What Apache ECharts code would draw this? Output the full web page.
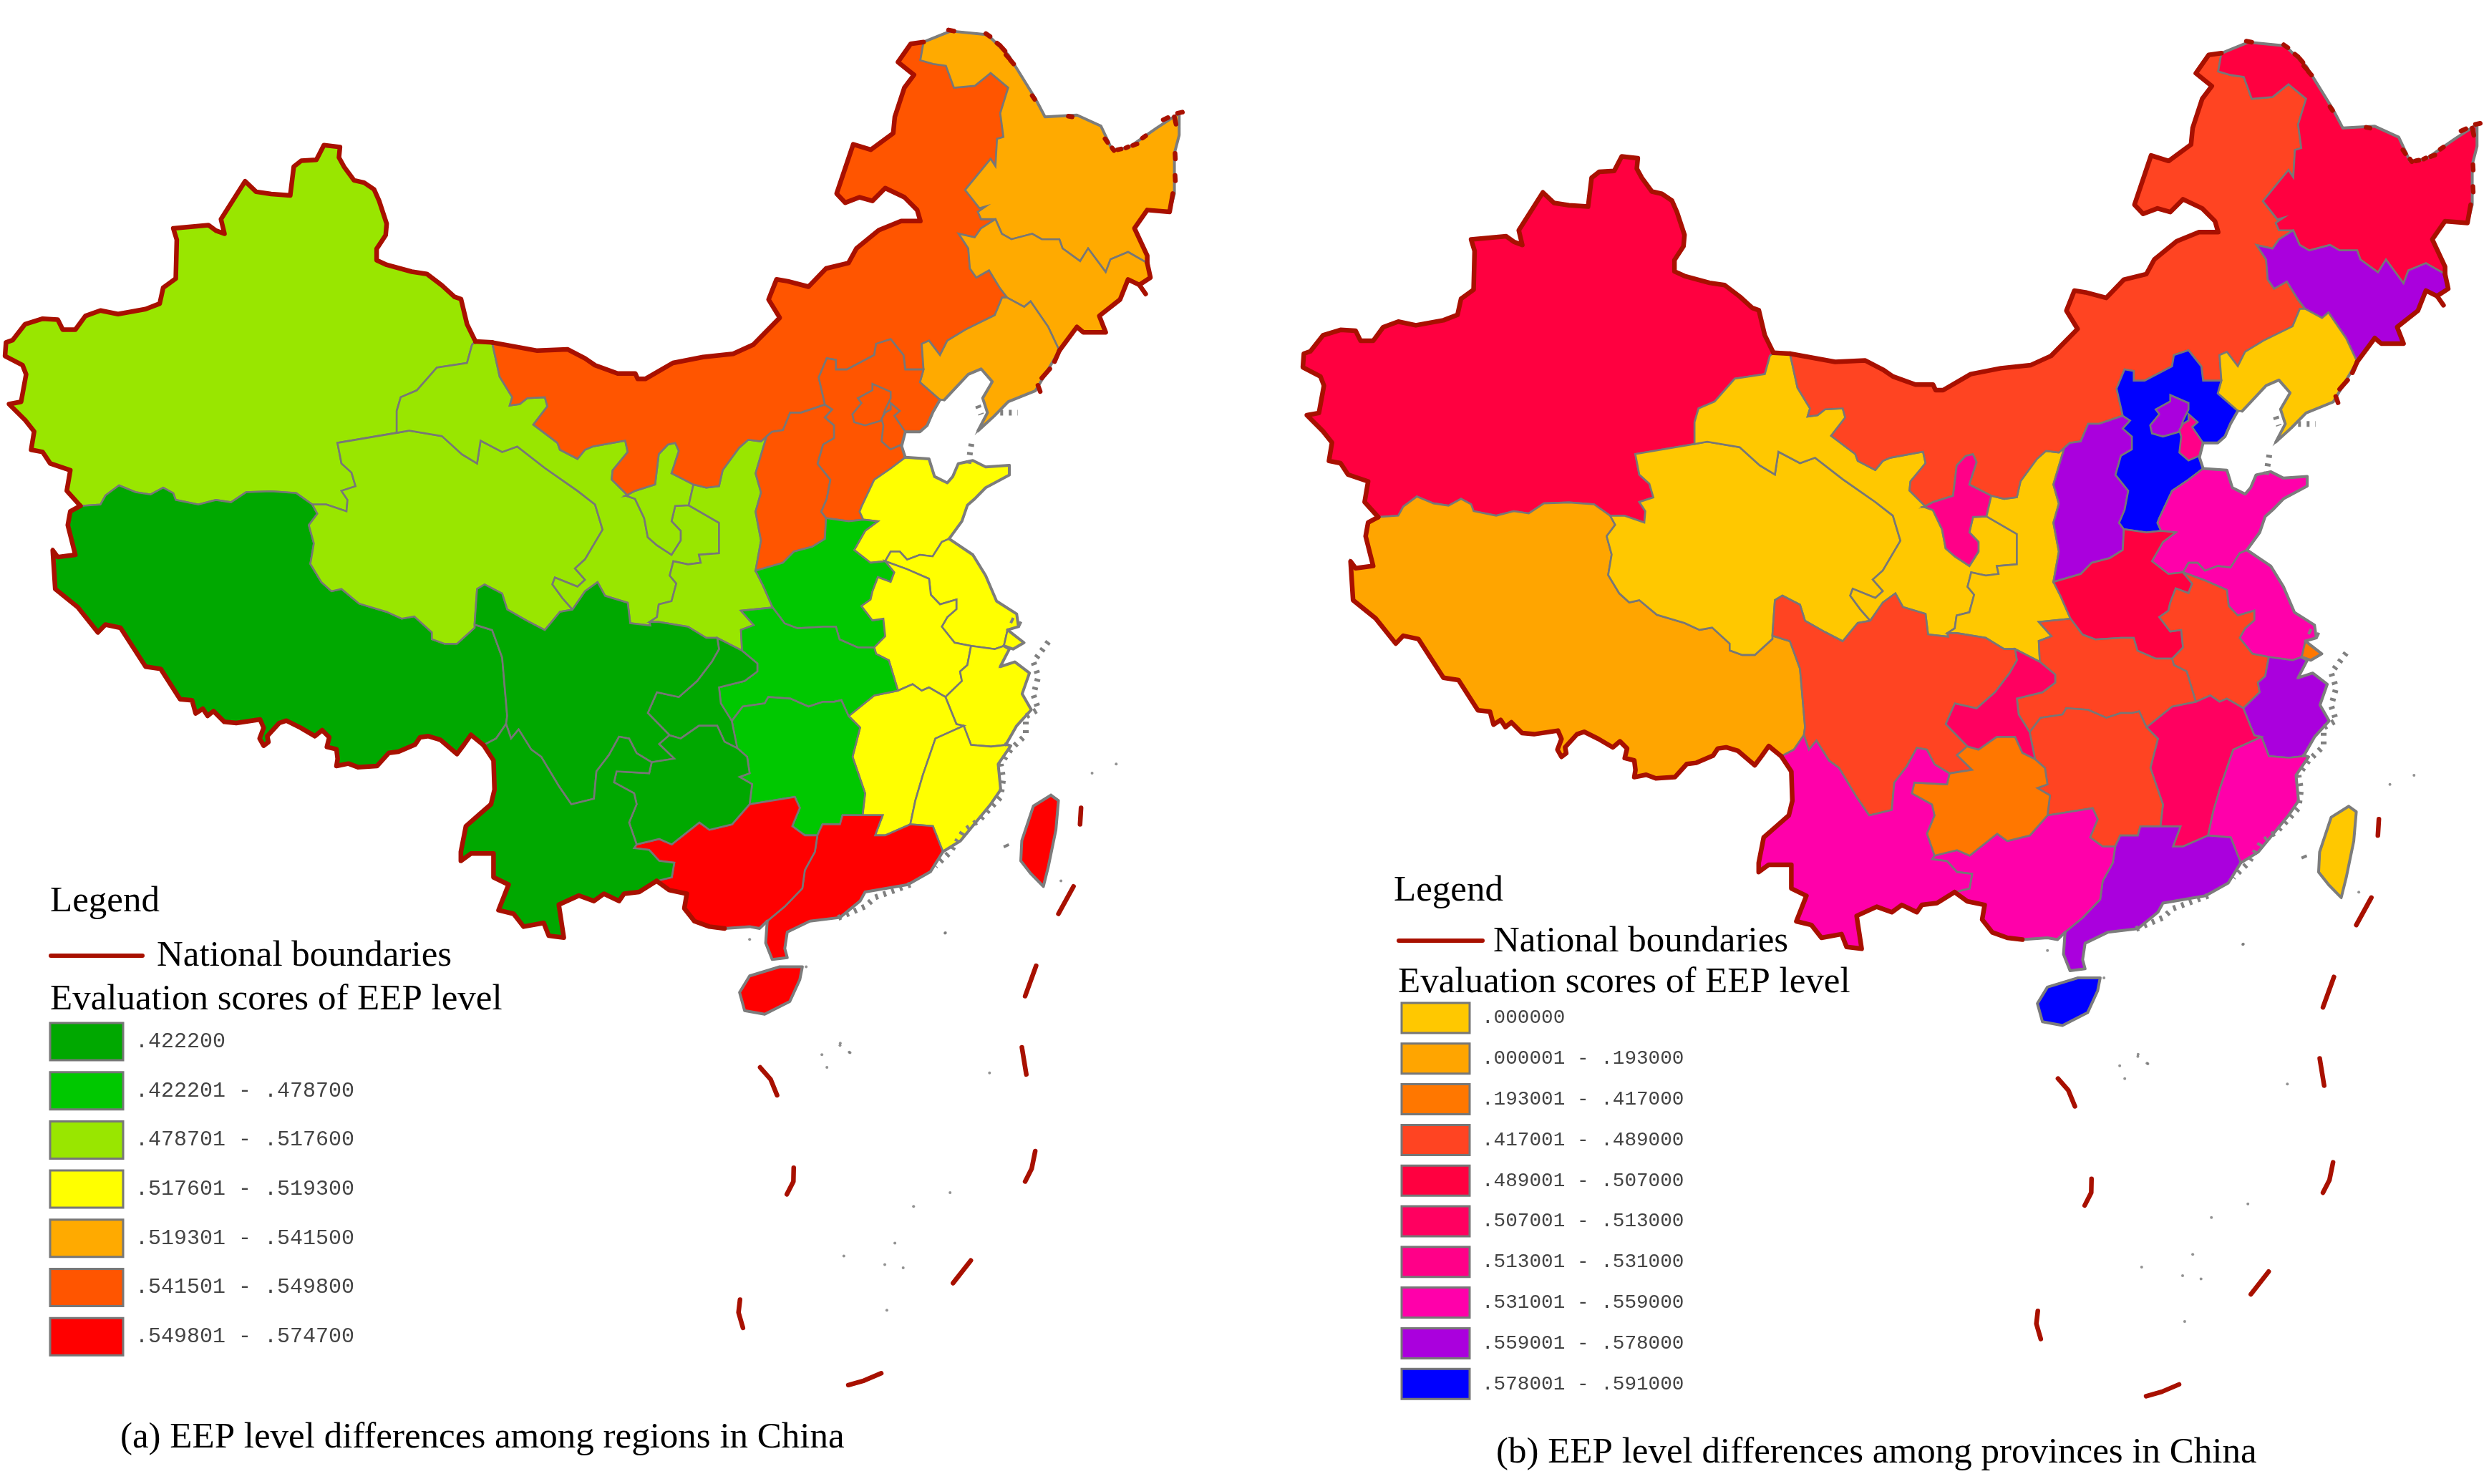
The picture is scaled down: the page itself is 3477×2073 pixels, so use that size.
<!DOCTYPE html>
<html><head><meta charset="utf-8">
<style>html,body{margin:0;padding:0;background:#fff}#c{width:3477px;height:2073px}</style>
<script src="https://cdn.jsdelivr.net/npm/echarts@6/dist/echarts.min.js"></script>
</head><body><div id="c"></div>
<script>
// ---- chart values ----
const provinceNames = ['XJ','XZ','QH','GS','NX','SN','NM','HLJ','JL','LN','SX','HE','BJ','TJ','SD','HA','JS','SH','AH','ZJ','JX','FJ','HB','HN','GD','GX','HI','CQ','SC','GZ','YN','TW'];
const regionScores = [.5176,.4222,.5176,.5176,.5176,.5176,.5498,.5415,.5415,.5415,.5498,.5498,.5498,.5498,.5193,.4787,.5193,.5193,.5193,.5193,.5193,.5193,.4787,.4787,.5747,.5747,.5747,.4222,.4222,.4222,.4222,.5747];
const provinceScores = [.5,.193,0,0,.53,0,.489,.5,.578,0,.578,.591,.578,.53,.559,.5,.559,.417,.489,.578,.513,.559,.489,.489,.578,.559,.591,.513,.489,.417,.559,0];
const regionLabels = ['.422200','.422201 - .478700','.478701 - .517600','.517601 - .519300','.519301 - .541500','.541501 - .549800','.549801 - .574700'];
const regionMin = [.4222,.422201,.478701,.517601,.519301,.541501,.549801];
const regionMax = [.4222,.4787,.5176,.5193,.5415,.5498,.5747];
const regionColors = ['#00A800','#00C800','#99E600','#FFFF00','#FFAA00','#FF5500','#FF0000'];
const provinceLabels = ['.000000','.000001 - .193000','.193001 - .417000','.417001 - .489000','.489001 - .507000','.507001 - .513000','.513001 - .531000','.531001 - .559000','.559001 - .578000','.578001 - .591000'];
const provinceMin = [0,.000001,.193001,.417001,.489001,.507001,.513001,.531001,.559001,.578001];
const provinceMax = [0,.193,.417,.489,.507,.513,.531,.559,.578,.591];
const provinceColors = ['#FFC800','#FFA500','#FF7700','#FF4422','#FF0040','#FF0060','#FF0088','#FF00AA','#AA00DD','#0000FF'];

// ---- map outline ----
const fr = (ox,sx,oy,sy) => pts => pts.map(p => [ox+p[0]*sx, oy+p[1]*sy]);
const A = fr(0,.7015,0,.6378), B = fr(1000,.4464,0,.5102), C = fr(500,.7015,700,.5102);
const D = fr(782.5,.5102,384.4,.4464), E = fr(950,.4145,1300,.4464), F = fr(250,1/3,900,1/3);
const arcs = {
 xjN:A([[947,748],[930,710],[918,655],[905,650],[880,625],[850,600],[820,595],[770,580],[750,570],[750,545],[768,515],[770,490],[755,440],[745,415],[725,400],[705,395],[685,365],[675,345],[677,322],[645,318],[630,350],[600,352],[585,365],[578,428],[540,425],[510,420],[488,397],[440,480],[447,512],[430,505],[415,493],[345,500],[352,525],[350,610],[325,630],[318,665],[290,677],[235,688],[200,680],[170,692],[150,722],[125,722],[115,700],[85,698],[50,710],[25,745],[12,750],[10,780],[45,800],[52,820],[42,880],[18,885],[50,920],[68,945],[62,985],[85,990],[100,1015],[140,1030],[133,1075],[160,1108]]),
 gsBorder:A([[947,748],[980,750]]),
 xjXz:A([[160,1108],[200,1105],[210,1085],[237,1063],[270,1078],[300,1083],[325,1068],[345,1080],[350,1095],[395,1105],[430,1095],[460,1100],[490,1078],[540,1076],[590,1080],[622,1105]]),
 xjQh:A([[622,1105],[650,1105],[690,1120],[692,1095],[680,1075],[708,1065],[700,1035],[680,1015],[672,970],[790,948]]),
 xjGs:A([[790,948],[790,900],[798,870],[830,855],[870,805],[930,795],[940,755],[947,748]]),
 qhGs:A([[790,948],[815,943],[880,955],[920,995],[950,1015],[957,965],[1000,990],[1030,978],[1085,1025],[1150,1075],[1185,1105],[1200,1160],[1165,1225],[1145,1245],[1165,1270],[1150,1285],[1105,1265],[1100,1280],[1120,1310],[1140,1335]]),
 qhSc:A([[945,1368],[950,1290],[965,1280],[1000,1300],[1010,1335],[1050,1360],[1085,1380],[1115,1340],[1140,1335]]),
 qhXz:A([[622,1105],[632,1125],[615,1150],[625,1190],[618,1235],[640,1275],[660,1295],[680,1290],[715,1322],[770,1340],[800,1355],[825,1350],[860,1385],[860,1400],[885,1410],[910,1410],[945,1375],[945,1368]]),
 gsSc:A([[1140,1335],[1165,1295],[1190,1275],[1205,1305],[1250,1320],[1255,1365],[1295,1370]]),
 gsNm:A([[980,750],[995,825],[1020,870],[1015,888],[1035,885],[1050,872],[1085,870],[1090,890],[1062,930],[1110,970],[1115,985],[1150,1005],[1165,985],[1180,978],[1245,965],[1250,990],[1220,1030],[1218,1050],[1250,1085]]),
 xzBorder:A([[160,1108],[140,1120],[135,1150],[150,1215],[115,1220],[105,1205],[110,1290],[155,1330],[195,1385],[210,1368],[240,1375],[290,1460],[320,1465],[355,1525]]).concat(F([[5,230],[55,235],[70,290],[100,270],[120,300],[145,280],[190,325],[240,330],[340,315],[355,350],[338,395],[355,425],[375,410],[370,385],[420,330],[450,320],[510,350],[570,385],[600,360],[630,390],[620,430],[660,440],[665,480],[660,510],[710,500],[750,515],[830,510],[880,455],[920,450],[990,420],[1010,390],[1045,385],[1095,400],[1165,460],[1195,420]]),C([[225,640],[250,668]])),
 xzSc:A([[945,1368],[980,1380],[1000,1440],[1010,1568]]).concat(C([[295,610]])),
 xzYn:C([[295,610],[275,650],[250,668]]),
 nxNm:D([[180,690],[205,675],[260,655],[270,560],[295,530],[315,525],[325,550],[305,620],[365,655]]),
 nxSn:D([[365,655],[352,720]]),
 nxGs:D([[352,720],[315,722],[305,770],[330,800],[330,830],[305,875],[265,845],[240,820],[230,760],[205,700],[180,690]]),
 snGs:D([[352,720],[435,775],[435,870],[380,875],[385,900],[350,905],[310,895],[300,940],[318,965],[305,1020],[270,1030],[265,1070],[245,1085]]),
 scSn:D([[245,1085],[270,1085],[350,1100],[400,1135],[430,1135]]),
 cqSn:D([[430,1135],[498,1175]]),
 hbSn:D([[498,1175],[495,1110],[530,1095],[495,1050],[582,1040]]),
 haSn:D([[582,1040],[555,970],[535,925]]),
 sxSn:D([[535,925],[550,830],[535,740],[550,680],[535,620],[565,505]]),
 nmSn:D([[565,505],[550,520],[515,515],[490,540],[445,610],[435,660],[400,665],[365,655]]),
 nmSx:D([[565,505],[580,490],[610,485],[630,430],[660,430],[725,405]]),
 sxHe:D([[725,405],[745,420],[725,445],[750,470],[750,510],[720,530],[705,590],[740,640],[730,700],[715,740],[728,760]]),
 sxHa:D([[728,760],[725,825],[690,850],[640,865],[610,900],[535,925]]),
 nmHe:D([[725,405],[708,320],[730,260],[755,265],[755,295],[785,295],[860,250],[865,215],[905,200],[940,250],[945,295],[995,295]]),
 nmLn:D([[995,295],[990,215],[1010,205],[1040,250],[1060,205],[1110,170],[1190,125],[1210,70]]),
 heLn:D([[995,295],[985,335],[1040,390]]),
 heCoast:D([[1040,390],[1020,430],[1005,470],[985,490],[945,490],[935,535],[945,570]]),
 heSd:D([[945,570],[905,605],[860,640],[825,725],[820,740],[830,765]]),
 heHa:D([[830,765],[790,770],[728,760]]),
 sdCoast:D([[945,570],[1010,575],[1025,630],[1060,650],[1075,630],[1090,590],[1130,580],[1165,600],[1230,595],[1230,625],[1165,665],[1135,700],[1115,720],[1100,770],[1065,825]]),
 sdJs:D([[1065,825],[1045,835],[1020,880],[985,875],[950,890],[930,865],[905,865],[890,895]]),
 sdHa:D([[830,765],[870,770],[835,800],[805,860],[850,900],[890,895]]),
 haAh:D([[890,895],[915,930],[905,960],[870,945],[855,990],[850,1015],[825,1035],[855,1080],[885,1075],[890,1130],[860,1165]]),
 haHb:D([[582,1040],[615,1090],[650,1105],[720,1100],[755,1100],[765,1140],[815,1165],[860,1165]]),
 ahHb:D([[860,1165],[865,1185],[900,1205],[925,1300]]),
 ahJx:D([[925,1300],[965,1280],[990,1300],[1010,1290],[1055,1320]]),
 ahZj:D([[1055,1320],[1100,1270],[1095,1240],[1115,1220],[1125,1160]]),
 ahJs:D([[890,895],[950,920],[1010,950],[1015,1000],[1040,1030],[1085,1015],[1085,1045],[1060,1070],[1045,1100],[1080,1150],[1125,1160]]),
 jsZj:D([[1125,1160],[1190,1170],[1215,1160]]),
 jsCoast:D([[1065,825],[1130,875],[1165,940],[1195,1020],[1250,1060],[1255,1100],[1225,1110]]),
 jsSh:D([[1225,1110],[1215,1160]]),
 shCoast:D([[1225,1110],[1270,1150],[1240,1170],[1215,1160]]),
 zjCoast:D([[1215,1160],[1230,1170],[1205,1225],[1245,1210],[1285,1245],[1265,1310],[1290,1360],[1250,1410],[1220,1470]]),
 zjFj:D([[1220,1470],[1180,1475],[1125,1470],[1105,1410]]),
 zjJx:D([[1105,1410],[1085,1405],[1055,1320]]),
 hbHn:D([[790,1380],[770,1330],[750,1335],[720,1335],[680,1350],[630,1325],[570,1320],[560,1340],[500,1350],[470,1395]]),
 hbCq:D([[470,1395],[440,1340],[435,1290],[505,1270],[540,1240],[540,1215],[498,1175]]),
 hbJx:D([[790,1380],[860,1315],[925,1300]]),
 cqSc:D([[430,1135],[435,1170],[415,1210],[375,1270],[325,1320],[265,1305],[240,1370],[300,1440]]),
 cqGz:D([[300,1440],[330,1450],[380,1410],[430,1410],[450,1460],[485,1480]]),
 cqHn:D([[470,1395],[485,1480]]),
 hnGz:C([[755,676],[775,700],[780,745],[760,755],[785,775],[780,830]]),
 gzGx:C([[780,830],[745,885],[700,900],[680,880],[625,940],[600,925],[555,940]]),
 hnGx:C([[780,830],[870,810],[880,840],[865,890],[890,915],[915,915]]),
 hnGd:C([[915,915],[925,885],[960,885],[965,860],[1005,860]]),
 hnJx:C([[977,588],[1000,620],[985,700],[1000,760],[1010,800],[1005,860]]),
 jxFj:C([[1205,615],[1150,650],[1125,750],[1110,820],[1100,885]]),
 jxGd:C([[1005,860],[1045,860],[1030,915],[1050,915],[1100,885]]),
 fjGd:C([[1100,885],[1145,890],[1165,960]]),
 fjCoast:C([[1290,665],[1300,670],[1275,720],[1280,790],[1260,830],[1200,930],[1165,960]]),
 gdGx:C([[915,915],[910,960],[890,1010],[885,1060],[850,1110],[815,1150]]),
 gdCoast:C([[1165,960],[1140,1015],[1095,1050],[1010,1070],[1000,1095],[960,1140],[900,1150],[855,1180],[850,1225],[855,1250],[825,1255],[812,1210],[815,1150]]),
 gxCoast:C([[815,1150],[800,1170],[780,1165],[730,1170]]),
 gxBorder:C([[595,1040],[620,1065],[655,1075],[650,1115],[670,1150],[700,1165],[730,1170]]),
 gxYn:C([[555,940],[550,950],[580,955],[600,985],[630,990],[625,1030],[595,1040]]),
 gzYn:C([[585,715],[580,745],[515,740],[510,770],[550,800],[555,830],[540,880],[555,940]]),
 scGz:C([[585,715],[630,705],[600,665],[620,641]]),
 scYn:C([[295,610],[305,650],[320,625],[345,680],[365,700],[400,780],[425,830],[470,815],[475,740],[500,695],[520,645],[540,650],[555,690],[585,715]]),
 ynBorder:C([[250,668],[270,710],[272,790],[265,830],[240,860],[215,890],[205,960],[205,985],[225,965],[270,965],[270,1030],[300,1050],[280,1120],[310,1130],[330,1165],[370,1155],[380,1190],[410,1195],[400,1105],[440,1080],[470,1095],[490,1075],[520,1095],[530,1075],[560,1070],[595,1040]]),
 nmBorder:A([[980,750],[1070,768],[1130,765],[1165,785],[1185,800],[1230,818],[1265,818],[1270,830],[1285,830],[1340,795],[1400,782],[1460,775],[1500,755]]).concat(B([[200,870],[165,820],[190,765],[225,770],[290,785],[345,735],[415,720],[440,680],[510,630],[580,605],[640,605],[630,575],[590,540],[530,515],[490,550],[450,540],[405,555],[378,530],[430,395],[485,410],[555,365],[560,320],[590,240],[620,205],[570,170],[610,120],[650,115]])),
 nmHlj:B([[650,115],[640,165],[680,175],[720,180],[745,240],[810,235],[860,200],[915,240],[890,310],[900,375],[880,380],[875,455],[860,435],[780,520],[825,570],[845,565],[820,580],[830,600],[875,600]]),
 nmJl:B([[875,600],[830,625],[810,650],[760,640],[790,680],[795,735],[815,760],[855,740],[890,790],[912,815]]),
 hljN:B([[650,115],[735,85],[850,95],[915,150],[1000,270],[1030,320],[1130,315],[1205,345],[1240,410],[1290,405],[1380,350],[1450,310],[1450,370],[1435,420],[1435,530],[1420,580],[1350,575],[1310,625],[1350,700],[1350,720]]),
 hljJl:B([[875,600],[895,640],[925,655],[990,640],[1020,655],[1075,655],[1085,680],[1140,715],[1165,680],[1220,745],[1235,710],[1290,690],[1350,720]]),
 jlBorder:B([[1350,720],[1360,760],[1325,780],[1290,765],[1265,820],[1200,865],[1220,910],[1150,910],[1130,895],[1075,960]]),
 jlLn:B([[912,815],[965,840],[985,825],[1040,895],[1075,960]]),
 lnCoast:B([[1075,960],[1000,1070],[915,1100],[870,1140],[820,1180],[850,1130],[835,1090],[865,1045],[830,1010],[790,1025],[715,1095]]),
 bj:D([[855,340],[905,365],[905,385],[890,420],[880,455],[835,470],[805,460],[800,435],[825,400],[815,385],[855,360]]),
 tj:D([[905,400],[930,425],[915,440],[945,490],[935,530],[905,545],[880,520],[885,470],[880,450],[890,430],[905,420]]),
 hi:C([[885,1275],[880,1310],[860,1370],[810,1405],[770,1395],[760,1345],[780,1300],[840,1275]]),
 tw:C([[1380,805],[1395,820],[1390,900],[1375,1000],[1365,1055],[1340,1020],[1320,985],[1322,930],[1345,835]])
};
const ring = (...names) => names.flatMap(n => n[0]==='-' ? arcs[n.slice(1)].slice().reverse() : arcs[n]);
const outlines = {
 XJ:['xjN','xjXz','xjQh','xjGs'],
 XZ:['xjXz','qhXz','xzSc','xzYn','-xzBorder'],
 QH:['xjQh','qhGs','-qhSc','-qhXz'],
 GS:['xjGs','gsBorder','gsNm','-nxGs','snGs','-gsSc','-qhGs'],
 NX:['nxNm','nxSn','nxGs'],
 SN:['nmSn','nxSn','snGs','scSn','cqSn','hbSn','haSn','sxSn'],
 NM:['nmBorder','nmHlj','nmJl','-nmLn','-nmHe','-nmSx','nmSn','-nxNm','-gsNm'],
 HLJ:['hljN','-hljJl','-nmHlj'],
 JL:['hljJl','jlBorder','-jlLn','-nmJl'],
 LN:['jlLn','lnCoast','-heLn','nmLn'],
 SX:['nmSx','sxHe','sxHa','sxSn'],
 HE:['nmHe','heLn','heCoast','heSd','heHa','-sxHe'],
 BJ:['bj'],TJ:['tj'],
 SD:['sdCoast','sdJs','-sdHa','-heSd'],
 HA:['heHa','sxHa','-haSn','haHb','-haAh','-sdHa'],
 JS:['jsCoast','jsSh','-jsZj','-ahJs','-sdJs'],
 SH:['shCoast'],
 AH:['ahJs','-ahZj','-ahJx','-ahHb','-haAh'],
 ZJ:['jsZj','zjCoast','zjFj','zjJx','ahZj'],
 JX:['ahJx','-zjJx','jxFj','-jxGd','-hnJx','hbJx'],
 FJ:['zjFj','jxFj','fjGd','-fjCoast'],
 HB:['haHb','ahHb','-hbJx','hbHn','hbCq','hbSn'],
 HN:['-hbHn','hnJx','-hnGd','-hnGx','-hnGz','-cqHn'],
 GD:['jxGd','fjGd','gdCoast','-gdGx','hnGd'],
 GX:['gzGx','gxYn','gxBorder','-gxCoast','-gdGx','-hnGx'],
 HI:['hi'],
 CQ:['cqSn','-hbCq','cqHn','-cqGz','-cqSc'],
 SC:['qhSc','gsSc','scSn','cqSc','-scGz','-scYn','-xzSc'],
 GZ:['scGz','cqGz','hnGz','gzGx','-gzYn'],
 YN:['xzYn','ynBorder','-gxYn','-gzYn','-scYn'],
 TW:['tw']
};
const features = provinceNames.map(n => {
  const r = ring(...outlines[n]); r.push(r[0]);
  return {type:'Feature',properties:{name:n},geometry:{type:'Polygon',coordinates:[r]}};
});
echarts.registerMap('cnProvinces',{type:'FeatureCollection',features});

const closed = a => a.concat([a[0]]);
const coastLines = [arcs.hljN,arcs.lnCoast,arcs.heCoast,arcs.sdCoast,arcs.jsCoast,arcs.shCoast,arcs.zjCoast,arcs.fjCoast,arcs.gdCoast,arcs.gxCoast,closed(arcs.hi),closed(arcs.tw)];
const borderLines = [
  arcs.xjN, arcs.gsBorder, arcs.xzBorder, arcs.ynBorder, arcs.gxBorder, arcs.nmBorder, arcs.jlBorder,
  B([[1430,530],[1420,580],[1350,575],[1310,625],[1350,700],[1350,720]]),
  B([[1325,780],[1345,805]]),
  B([[1075,960],[1060,990]]),B([[1045,1010],[1020,1035]]),B([[1008,1055],[1015,1072]]),
  ...[[[728,82],[745,85]],[[845,92],[858,100]],[[880,118],[890,125]],[[895,130],[905,140]],[[908,150],[918,160]],[[922,165],[932,175]],[[990,262],[998,272]],[[1103,318],[1115,320]],[[1218,380],[1226,390]],[[1240,405],[1246,412]],[[1258,410],[1268,408]],[[1283,405],[1290,402]],[[1305,398],[1318,394]],[[1335,378],[1345,372]],[[1400,328],[1415,322]],[[1445,310],[1460,307]],[[1435,320],[1440,340]],[[1437,420],[1438,435]],[[1437,480],[1438,495]]].map(B)
];
const seaDashes = [
  E([[270,428],[305,465],[327,515]]),E([[383,742],[382,785],[360,825]]),E([[1200,110],[1163,205]]),
  E([[1152,365],[1167,450]]),E([[1197,690],[1185,745],[1163,785]]),E([[980,1032],[920,1103]]),
  E([[202,1155],[197,1195],[212,1243]]),E([[678,1385],[620,1408],[567,1422]]),
  C([[1425,1055],[1395,1130]]),C([[1440,840],[1438,885]])
];
const coastFuzz = [
  C([[1375,385],[1345,440],[1355,480],[1345,530],[1355,570],[1330,590],[1330,640],[1300,680],[1280,720],[1285,760],[1280,810],[1240,870],[1205,905],[1180,960],[1150,1000]]),
  C([[1100,1050],[1030,1085],[1010,1110],[950,1145]]),
  C([[1290,940],[1295,955]]),
  B([[890,1130],[945,1130]]),B([[800,1215],[790,1270]]),B([[820,1110],[830,1135]]),
  C([[1300,325],[1330,345]])
];
const specks = E([[540,352],[570,380],[478,388],[495,428],[1043,445],[910,820],[787,863],[724,978],[552,1018],[690,1045],[752,1055],[697,1188],[893,8],[425,113]]).concat(C([[1462,745],[1510,720],[780,1200],[1170,1182],[1400,1040],[960,1490],[980,1510]]));

// ---- page layout ----
const shift = [1813,15.6];
const W = 3477, H = 2073;
const panels = [
 {box:[[0,0],[W,H]], names:regionScores, min:regionMin,max:regionMax,labels:regionLabels,colors:regionColors,
  sw:{x:70,y:1429,w:102,h:52,gap:16.7,tg:17,fs:30},
  head:{x:70,y:1274,lx0:71,lx1:199,ly:1335,nx:219,ny:1350,ex:70,ey:1411}},
 {box:[[-shift[0],-shift[1]],[W-shift[0],H-shift[1]]], names:provinceScores, min:provinceMin,max:provinceMax,labels:provinceLabels,colors:provinceColors,
  sw:{x:1958,y:1401,w:95,h:42,gap:14.8,tg:17,fs:27.7},
  head:{x:1947,y:1259,lx0:1954,lx1:2071,ly:1314,nx:2086,ny:1330,ex:1953,ey:1387}}
];
const identity = {project:p=>p, unproject:p=>p};
const serif = '"Liberation Serif"';
const txt = (s,x,base,size) => ({type:'text',silent:true,style:{text:s,x,y:base+size*0.22,font:`${size}px ${serif}`,fill:'#000',verticalAlign:'bottom'}});

const geo=[],series=[],visualMap=[],graphic=[];
panels.forEach((p,i)=>{
  geo.push({map:'cnProvinces',projection:identity,left:0,top:0,width:W,height:H,boundingCoords:p.box,roam:false,silent:true,
    label:{show:false},emphasis:{disabled:true},select:{disabled:true},
    itemStyle:{areaColor:'#fff',borderColor:'#777',borderWidth:2.6}});
  const mapIndex = series.length;
  series.push({type:'map',geoIndex:i,silent:true,data:provinceNames.map((n,k)=>({name:n,value:p.names[k]}))});
  series.push({type:'lines',coordinateSystem:'geo',geoIndex:i,polyline:true,silent:true,z:4,
    lineStyle:{color:'#7c7c7c',width:4,opacity:1,join:'round',cap:'round'},data:coastLines.map(c=>({coords:c}))});
  series.push({type:'lines',coordinateSystem:'geo',geoIndex:i,polyline:true,silent:true,z:4,
    lineStyle:{color:'#808080',width:8,type:[4,8],opacity:1,cap:'butt'},data:coastFuzz.map(c=>({coords:c}))});
  series.push({type:'lines',coordinateSystem:'geo',geoIndex:i,polyline:true,silent:true,z:5,
    lineStyle:{color:'#A81000',width:6.5,opacity:1,cap:'round',join:'round'},data:borderLines.concat(seaDashes).map(c=>({coords:c}))});
  series.push({type:'scatter',coordinateSystem:'geo',geoIndex:i,silent:true,z:4,symbolSize:4,itemStyle:{color:'#777'},data:specks});
  const s=p.sw;
  visualMap.push({type:'piecewise',seriesIndex:mapIndex,orient:'vertical',inverse:true,left:s.x,top:s.y,padding:0,
    itemWidth:s.w,itemHeight:s.h,itemGap:s.gap,textGap:s.tg,itemSymbol:'rect',selectedMode:false,hoverLink:false,align:'left',
    textStyle:{fontFamily:'"Liberation Mono"',fontSize:s.fs,color:'#444'},
    pieces:p.labels.map((l,k)=>({min:p.min[k],max:p.max[k],label:l,color:p.colors[k]}))});
  p.labels.forEach((l,k)=>graphic.push({type:'rect',silent:true,z:100,shape:{x:s.x,y:s.y+k*(s.h+s.gap),width:s.w,height:s.h},style:{fill:'none',stroke:'#777',lineWidth:3}}));
  const h=p.head;
  graphic.push(txt('Legend',h.x,h.y,51));
  graphic.push({type:'line',silent:true,shape:{x1:h.lx0,y1:h.ly,x2:h.lx1,y2:h.ly},style:{stroke:'#A81000',lineWidth:6,lineCap:'round'}});
  graphic.push(txt('National boundaries',h.nx,h.ny,51));
  graphic.push(txt('Evaluation scores of EEP level',h.ex,h.ey,51));
});
const chart = echarts.init(document.getElementById('c'),null,{renderer:'canvas',width:W,height:H});
chart.setOption({
  animation:false,backgroundColor:'#fff',
  title:[
   {text:'(a) EEP level differences among regions in China',left:168,top:1983,padding:0,textStyle:{fontFamily:serif,fontSize:51,fontWeight:'normal',color:'#000'}},
   {text:'(b) EEP level differences among provinces in China',left:2090,top:2004,padding:0,textStyle:{fontFamily:serif,fontSize:51,fontWeight:'normal',color:'#000'}}
  ],
  geo,series,visualMap,graphic:{elements:graphic}
});
</script></body></html>
